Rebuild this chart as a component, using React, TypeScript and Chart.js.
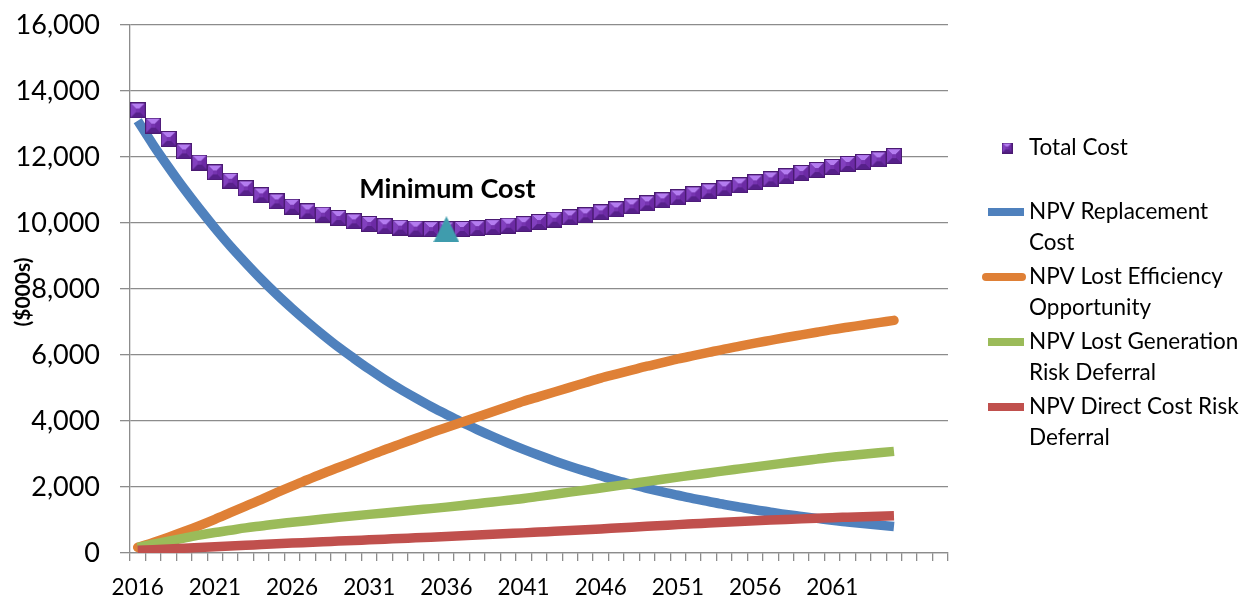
import React, { useEffect, useRef } from 'react';
import { Chart, registerables } from 'chart.js';

Chart.register(...registerables);

// Years on the category axis; three empty slots pad the right end of the axis.
const YEARS = [
  '2016', '2017', '2018', '2019', '2020', '2021', '2022', '2023', '2024', '2025',
  '2026', '2027', '2028', '2029', '2030', '2031', '2032', '2033', '2034', '2035',
  '2036', '2037', '2038', '2039', '2040', '2041', '2042', '2043', '2044', '2045',
  '2046', '2047', '2048', '2049', '2050', '2051', '2052', '2053', '2054', '2055',
  '2056', '2057', '2058', '2059', '2060', '2061', '2062', '2063', '2064', '2065',
];
const PAD_CATEGORIES = ['', '', ''];
const CATEGORIES = [...YEARS, ...PAD_CATEGORIES];
const LABEL_EVERY = 5;

// ($000s)
const TOTAL_COST = [
  13410, 12950, 12545, 12170, 11828, 11534, 11282, 11050, 10838, 10655,
  10494, 10352, 10252, 10151, 10050, 9970, 9900, 9860, 9830, 9815,
  9810, 9820, 9845, 9875, 9920, 9965, 10030, 10100, 10171, 10232,
  10323, 10414, 10505, 10596, 10687, 10778, 10869, 10960, 11050, 11141,
  11232, 11323, 11414, 11515, 11606, 11697, 11788, 11848, 11929, 12025,
];
const REPLACEMENT_COST = [
  13100, 12370, 11690, 11040, 10430, 9850, 9300, 8790, 8300, 7840,
  7410, 7000, 6610, 6240, 5900, 5570, 5260, 4970, 4700, 4440,
  4200, 3960, 3740, 3530, 3330, 3140, 2960, 2790, 2630, 2480,
  2340, 2200, 2080, 1960, 1850, 1750, 1650, 1560, 1470, 1390,
  1310, 1240, 1170, 1110, 1050, 990, 940, 890, 845, 800,
];
const LOST_EFFICIENCY = [
  170, 320, 480, 650, 830, 1020, 1220, 1420, 1620, 1830,
  2030, 2220, 2410, 2590, 2770, 2950, 3130, 3300, 3470, 3640,
  3800, 3960, 4120, 4280, 4440, 4600, 4740, 4880, 5020, 5160,
  5300, 5420, 5540, 5660, 5770, 5880, 5980, 6080, 6180, 6270,
  6360, 6445, 6530, 6610, 6690, 6770, 6840, 6910, 6980, 7050,
];
const LOST_GENERATION = [
  170, 270, 360, 450, 540, 620, 690, 760, 820, 880,
  930, 980, 1030, 1080, 1125, 1170, 1215, 1260, 1305, 1345,
  1390, 1440, 1495, 1545, 1600, 1650, 1715, 1780, 1845, 1905,
  1970, 2035, 2100, 2170, 2235, 2300, 2365, 2425, 2490, 2550,
  2610, 2670, 2730, 2790, 2845, 2900, 2945, 2990, 3035, 3080,
];
const DIRECT_COST = [
  80, 102, 124, 146, 168, 190, 212, 234, 256, 278,
  300, 320, 340, 360, 380, 400, 420, 440, 460, 480,
  500, 522, 544, 566, 588, 610, 634, 658, 682, 706,
  730, 756, 782, 808, 834, 860, 884, 908, 932, 956,
  980, 998, 1016, 1034, 1052, 1070, 1085, 1100, 1115, 1130,
];

const MIN_COST_YEAR = '2036';
const MIN_COST_LABEL = 'Minimum Cost';
const Y_MIN = 0;
const Y_MAX = 16000;
const Y_STEP = 2000;
const Y_TITLE = '($000s)';

const COLORS = {
  replacement: '#4f81bd',
  efficiency: '#df8036',
  generation: '#9bbb59',
  direct: '#c0504d',
  minimum: '#3f9cad',
  grid: '#8c8c8c',
};

const LEGEND_LINES = [
  { lines: ['NPV Replacement', 'Cost'], color: COLORS.replacement, round: false },
  { lines: ['NPV Lost Efficiency', 'Opportunity'], color: COLORS.efficiency, round: true },
  { lines: ['NPV Lost Generation', 'Risk Deferral'], color: COLORS.generation, round: false },
  { lines: ['NPV Direct Cost Risk', 'Deferral'], color: COLORS.direct, round: false },
];

const FONT = 'Lato';

// Square marker with a bevelled (pyramid) look.
function makeBevelSquare(size: number): HTMLCanvasElement {
  const c = document.createElement('canvas');
  c.width = size;
  c.height = size;
  const g = c.getContext('2d')!;
  const s = size;
  const o = 1;
  const b = Math.round(s * 0.3);
  g.fillStyle = '#4a1a72';
  g.fillRect(0, 0, s, s);
  const poly = (pts: number[][], color: string) => {
    g.beginPath();
    g.moveTo(pts[0][0], pts[0][1]);
    for (let i = 1; i < pts.length; i++) g.lineTo(pts[i][0], pts[i][1]);
    g.closePath();
    g.fillStyle = color;
    g.fill();
  };
  poly([[o, o], [s - o, o], [s - o - b, o + b], [o + b, o + b]], '#b47cf0');
  poly([[s - o, o], [s - o, s - o], [s - o - b, s - o - b], [s - o - b, o + b]], '#6c2aa5');
  poly([[o, s - o], [s - o, s - o], [s - o - b, s - o - b], [o + b, s - o - b]], '#56208a');
  poly([[o, o], [o + b, o + b], [o + b, s - o - b], [o, s - o]], '#8240bf');
  g.fillStyle = '#7634b0';
  g.fillRect(o + b, o + b, s - 2 * (o + b), s - 2 * (o + b));
  return c;
}

function makeTriangle(w: number, h: number, color: string): HTMLCanvasElement {
  const c = document.createElement('canvas');
  c.width = w;
  c.height = h;
  const g = c.getContext('2d')!;
  g.beginPath();
  g.moveTo(w / 2, 0);
  g.lineTo(w, h);
  g.lineTo(0, h);
  g.closePath();
  g.fillStyle = color;
  g.fill();
  return c;
}

export default function App() {
  const canvasRef = useRef<HTMLCanvasElement | null>(null);

  useEffect(() => {
    const canvas = canvasRef.current;
    if (!canvas) return;

    const marker = makeBevelSquare(16);
    const legendMarker = makeBevelSquare(11);
    const triangle = makeTriangle(26, 26, COLORS.minimum);

    const minIndex = YEARS.indexOf(MIN_COST_YEAR);
    const minimumPoint = YEARS.map((y, i) => (y === MIN_COST_YEAR ? TOTAL_COST[i] : null));

    const overlay = {
      id: 'overlay',
      afterDraw(chart: any) {
        const ctx = chart.ctx as CanvasRenderingContext2D;
        ctx.save();
        ctx.fillStyle = '#000';

        // Annotation above the minimum marker
        const pt = chart.getDatasetMeta(0).data[minIndex];
        if (pt) {
          ctx.font = `bold 27px ${FONT}`;
          ctx.textAlign = 'center';
          ctx.textBaseline = 'middle';
          ctx.fillText(MIN_COST_LABEL, pt.x + 1, pt.y - 40);
        }

        // Y axis title
        ctx.save();
        ctx.translate(23, 292);
        ctx.rotate(-Math.PI / 2);
        ctx.font = `bold 21px ${FONT}`;
        ctx.textAlign = 'center';
        ctx.textBaseline = 'middle';
        ctx.fillText(Y_TITLE, 0, 0);
        ctx.restore();

        // Legend
        const textX = 1029;
        ctx.font = `22.5px ${FONT}`;
        ctx.textAlign = 'left';
        ctx.textBaseline = 'middle';
        ctx.drawImage(legendMarker, 1007 - 5.5, 148 - 5.5);
        ctx.fillText('Total Cost', textX, 148);

        const rowStart = 212;
        const groupGap = 65;
        const lineGap = 31;
        LEGEND_LINES.forEach((item, k) => {
          const y = rowStart + k * groupGap;
          ctx.beginPath();
          ctx.strokeStyle = item.color;
          ctx.lineWidth = 8;
          ctx.lineCap = item.round ? 'round' : 'butt';
          ctx.moveTo(item.round ? 986 : 988, y);
          ctx.lineTo(item.round ? 1022 : 1024, y);
          ctx.stroke();
          item.lines.forEach((t, j) => ctx.fillText(t, textX, y + j * lineGap));
        });
        ctx.restore();
      },
    };

    const lineDs = (label: string, data: number[], color: string, round: boolean, order: number) => ({
      label,
      data,
      borderColor: color,
      backgroundColor: color,
      borderWidth: 9.5,
      borderCapStyle: round ? 'round' : 'butt',
      borderJoinStyle: 'round',
      pointRadius: 0,
      pointHoverRadius: 0,
      cubicInterpolationMode: 'monotone',
      fill: false,
      order,
    });

    const chart = new Chart(canvas, {
      type: 'line',
      data: {
        labels: CATEGORIES,
        datasets: [
          {
            label: MIN_COST_LABEL,
            data: minimumPoint,
            showLine: false,
            pointStyle: triangle,
            pointRadius: 13,
            order: 0,
          } as any,
          {
            label: 'Total Cost',
            data: TOTAL_COST,
            showLine: false,
            pointStyle: marker,
            pointRadius: 8,
            order: 1,
          } as any,
          lineDs('NPV Direct Cost Risk Deferral', DIRECT_COST, COLORS.direct, false, 2),
          lineDs('NPV Lost Generation Risk Deferral', LOST_GENERATION, COLORS.generation, false, 3),
          lineDs('NPV Lost Efficiency Opportunity', LOST_EFFICIENCY, COLORS.efficiency, true, 4),
          lineDs('NPV Replacement Cost', REPLACEMENT_COST, COLORS.replacement, false, 5),
        ],
      },
      options: {
        responsive: false,
        animation: false,
        events: [],
        layout: { padding: { left: 0, right: 301, top: 25, bottom: 0 } },
        plugins: {
          legend: { display: false },
          tooltip: { enabled: false },
          title: { display: false },
        },
        scales: {
          x: {
            type: 'category',
            offset: true,
            grid: {
              display: true,
              offset: true,
              drawOnChartArea: false,
              drawTicks: true,
              tickLength: 8,
              color: COLORS.grid,
              lineWidth: 1.3,
            },
            border: { display: true, color: COLORS.grid, width: 1.3 },
            ticks: {
              autoSkip: false,
              maxRotation: 0,
              minRotation: 0,
              padding: 13,
              color: '#000',
              font: { family: FONT, size: 22.5 },
              callback: (_v: any, i: number) => (i % LABEL_EVERY === 0 ? CATEGORIES[i] : ''),
            },
            afterFit: (s: any) => {
              s.height = 48;
              s.paddingLeft = 0;
              s.paddingRight = 0;
            },
          },
          y: {
            min: Y_MIN,
            max: Y_MAX,
            grid: {
              color: COLORS.grid,
              lineWidth: 1.3,
              drawTicks: true,
              tickLength: 10,
            },
            border: { display: true, color: COLORS.grid, width: 1.3 },
            ticks: {
              stepSize: Y_STEP,
              padding: 20,
              color: '#000',
              font: { family: FONT, size: 27 },
              callback: (v: any) => Number(v).toLocaleString('en-US'),
            },
            afterFit: (s: any) => {
              s.width = 130;
              s.paddingTop = 0;
              s.paddingBottom = 0;
            },
          },
        },
      } as any,
      plugins: [overlay],
    });

    let alive = true;
    if ((document as any).fonts) {
      Promise.all([
        (document as any).fonts.load(`20px ${FONT}`),
        (document as any).fonts.load(`bold 20px ${FONT}`),
      ]).then(() => {
        if (alive) chart.update('none');
      }).catch(() => {});
    }

    return () => {
      alive = false;
      chart.destroy();
    };
  }, []);

  return (
    <div style={{ position: 'absolute', left: 0, top: 0, width: 1249, height: 601, background: '#fff' }}>
      <canvas ref={canvasRef} width={1249} height={601} style={{ display: 'block' }} />
    </div>
  );
}
